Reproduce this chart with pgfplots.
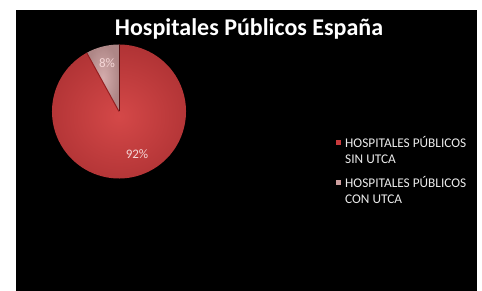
\documentclass[border=0pt]{standalone}
\usepackage{pgfplots}
\pgfplotsset{compat=1.18}
\usepackage{fontspec}
\setmainfont{Carlito}
\definecolor{redA}{RGB}{200,58,60}
\definecolor{redL}{RGB}{212,72,72}
\definecolor{redD}{RGB}{150,30,32}
\definecolor{pinkB}{RGB}{205,158,158}
\definecolor{lbl}{RGB}{245,215,215}
\pgfplotstableread{
label value
sin 92
con 8
}\piedata
\pgfplotstablegetelem{0}{value}\of\piedata \let\valA\pgfplotsretval
\pgfplotstablegetelem{1}{value}\of\piedata \let\valB\pgfplotsretval
\begin{document}
\begin{tikzpicture}
\begin{axis}[x=1pt,y=1pt,xmin=0,xmax=482,ymin=0,ymax=291,hide axis,scale only axis,clip=false]
\fill[white] (axis cs:0,0) rectangle (axis cs:482,291);
\fill[black] (axis cs:16,0) rectangle (axis cs:477,281);
\pgfmathsetmacro\angB{\valB/100*360}
\shade[inner color=redL,outer color=redA!88!black] (axis cs:119,179.5) -- ++({90+\angB}:67pt) arc[start angle={90+\angB}, end angle=450, radius=67pt] -- cycle;
\shade[inner color=pinkB!85!white,outer color=pinkB!85!black] (axis cs:119,179.5) -- ++(90:67pt) arc[start angle=90,end angle={90+\angB},radius=67pt] -- cycle;
\draw[redD,line width=1pt] (axis cs:119,179.5) -- ++({90+\angB}:67pt);
\draw[redD!60!black,line width=0.6pt] (axis cs:119,179.5) -- ++(90:67pt);
\node[text=lbl,font=\fontsize{13}{15}\selectfont] at (axis cs:107,228) {\valB\%};
\node[text=lbl,font=\fontsize{13}{15}\selectfont] at (axis cs:137,137) {\valA\%};
\node[text=white,font=\fontsize{24}{28}\bfseries\selectfont] at (axis cs:249,262) {Hospitales Públicos España};
\fill[redA] (axis cs:335.5,145.5) rectangle (axis cs:340.5,150.5);
\fill[pinkB] (axis cs:335.5,105.5) rectangle (axis cs:340.5,110.5);
\node[text=white!92!black,font=\fontsize{13.3}{16}\selectfont,anchor=north west,align=left,inner sep=0pt] at (axis cs:345,155) {HOSPITALES PÚBLICOS\\SIN UTCA};
\node[text=white!92!black,font=\fontsize{13.3}{16}\selectfont,anchor=north west,align=left,inner sep=0pt] at (axis cs:345,115) {HOSPITALES PÚBLICOS\\CON UTCA};
\end{axis}
\end{tikzpicture}
\end{document}
